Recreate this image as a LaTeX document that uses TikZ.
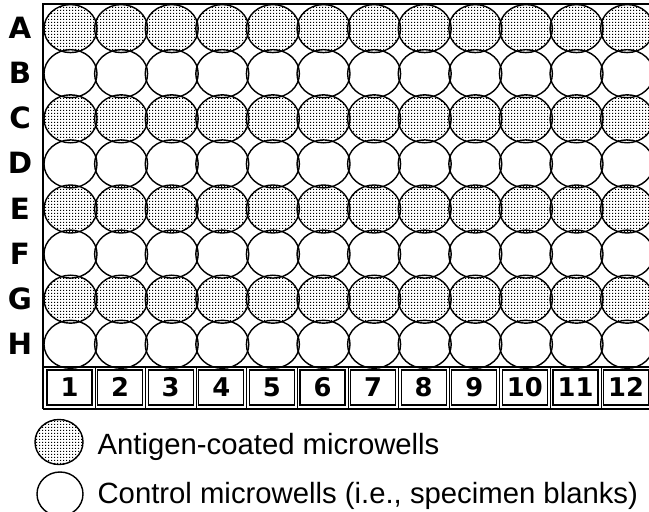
\documentclass[tikz,border=0pt]{standalone}
\usepackage{fontspec}
\setmainfont{Liberation Sans}
\newfontfamily\labfont{DejaVu Sans}
\usetikzlibrary{patterns}
\pgfdeclarepatternformonly{welldots}{\pgfpointorigin}{\pgfpoint{2.6pt}{2.6pt}}{\pgfpoint{2.6pt}{2.6pt}}
  {\pgfpathrectangle{\pgfpointorigin}{\pgfpoint{1.15pt}{1.15pt}}\pgfusepath{fill}}
\begin{document}
\begin{tikzpicture}[x=0.03cm,y=-0.03cm,line width=1pt,
  coated/.style={pattern=welldots},well/.style={draw,line width=1.2pt},
  rowlab/.style={anchor=base,inner sep=0pt,font=\labfont\fontsize{25}{28}\selectfont\bfseries},
  numbox/.style={draw,line width=0.9pt,minimum width=1.35cm,minimum height=1.05cm,inner sep=0pt,
    text height=16pt,text depth=0pt,font=\labfont\fontsize{22}{24}\selectfont\bfseries},
  legtext/.style={anchor=base west,inner sep=0pt,font=\fontsize{25}{28}\selectfont}]
\clip (0,0) rectangle (649,512);
% plate frame
\draw (649,4)--(43,4)--(43,409);
\draw (43,367)--(649,367);
\draw[line width=2pt] (43,409)--(649,409);
% wells: coated rows first, then all outlines
\foreach \r in {1,3,5,7}{\foreach \c in {1,...,12}{
  \fill[coated] ({70.5+50.6*(\c-1)},{28.6+45.1*(\r-1)}) ellipse [x radius=26.5,y radius=24];}}
\foreach \r in {1,...,8}{\foreach \c in {1,...,12}{
  \draw[well] ({70.5+50.6*(\c-1)},{28.6+45.1*(\r-1)}) ellipse [x radius=26.5,y radius=24];}}
% row and column labels
\foreach \r/\lab in {1/A,2/B,3/C,4/D,5/E,6/F,7/G,8/H}{\node[rowlab] (row\lab) at (20,{39+45*(\r-1)}) {\lab};}
\foreach \c in {1,...,11}{\draw ({95.1+50.6*(\c-1)},367)--++(0,42);}
\foreach \c in {1,...,12}{\node[numbox] (col\c) at ({69.5+50.6*(\c-1)},387.5) {\c};}
% legend
\fill[coated] (59,442) ellipse [x radius=24,y radius=22.5];
\draw[well] (59,442) ellipse [x radius=24,y radius=22.5];
\draw[well] (60,494) ellipse [x radius=23,y radius=22];
\node[legtext] (coatedtxt) at (97,454) {Antigen-coated microwells};
\node[legtext] (controltxt) at (97,503) {Control microwells (i.e., specimen blanks)};
\end{tikzpicture}
\end{document}
